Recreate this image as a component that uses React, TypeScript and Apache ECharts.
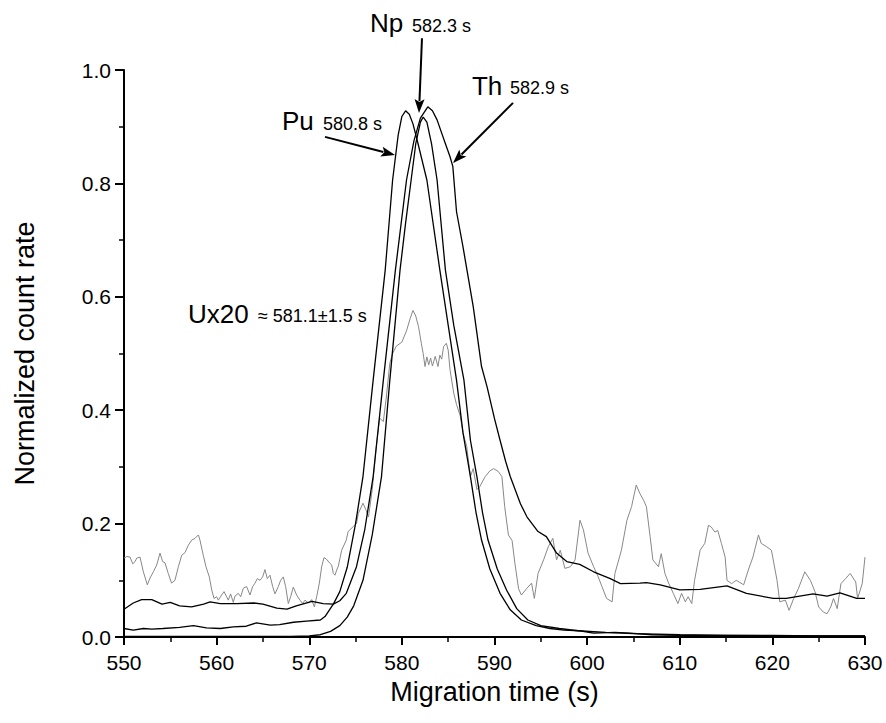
import React, { useEffect, useRef } from "react";
import * as echarts from "echarts";

// ---- axes ----
const X_MIN = 550;
const X_MAX = 630;
const X_INTERVAL = 10;
const Y_MIN = 0;
const Y_MAX = 1;
const Y_INTERVAL = 0.2;
const X_TITLE = "Migration time (s)";
const Y_TITLE = "Normalized count rate";

// ---- series: [migration time (s), normalized count rate] ----
const puData: [number, number][] = [
  [550, 0.015], [551, 0.012], [552.1, 0.015], [553, 0.014], [554.2, 0.015], [556, 0.017], [557.5, 0.02],
  [558.9, 0.016], [560.4, 0.015], [561.8, 0.018], [563.2, 0.019], [564.3, 0.025], [565.8, 0.021],
  [566.8, 0.022], [568.3, 0.026], [569.7, 0.028], [571.2, 0.03], [571.7, 0.036], [572.6, 0.058],
  [573.3, 0.08], [574.1, 0.123], [575.0, 0.2], [575.8, 0.283], [576.9, 0.453], [578.2, 0.647],
  [579.0, 0.806], [579.6, 0.885], [580.0, 0.918], [580.4, 0.928], [580.8, 0.922], [581.2, 0.905],
  [581.7, 0.873], [582.7, 0.806], [584.1, 0.647], [585.0, 0.55], [585.9, 0.453], [586.6, 0.36],
  [587.4, 0.283], [588.0, 0.22], [588.6, 0.171], [589.5, 0.12], [590.6, 0.077], [591.7, 0.048],
  [592.9, 0.03], [594.5, 0.02], [596, 0.015], [597.5, 0.012], [599.2, 0.011], [600.7, 0.007],
  [603, 0.008], [604.6, 0.007], [607, 0.004], [610, 0.003], [615, 0.003], [620, 0.002], [625, 0.002],
  [630, 0.002],
];

const npData: [number, number][] = [
  [550, 0.001], [560, 0.001], [568, 0.001], [570, 0.002], [571.2, 0.004], [572.3, 0.01], [573.3, 0.02],
  [574.1, 0.035], [574.8, 0.055], [575.8, 0.1], [576.8, 0.18], [577.8, 0.283], [578.7, 0.453],
  [579.8, 0.647], [580.4, 0.73], [581.0, 0.806], [581.5, 0.87], [582.0, 0.908], [582.3, 0.917],
  [582.7, 0.908], [583.2, 0.87], [583.8, 0.806], [584.7, 0.647], [585.6, 0.55], [586.7, 0.453],
  [587.4, 0.347], [588.1, 0.283], [588.7, 0.22], [589.3, 0.171], [590.3, 0.12], [591.3, 0.083],
  [592.4, 0.05], [593.6, 0.03], [595, 0.02], [597, 0.015], [599, 0.011], [602, 0.008], [605, 0.006],
  [610, 0.004], [615, 0.003], [620, 0.003], [625, 0.002], [630, 0.002],
];

const thData: [number, number][] = [
  [550, 0.049], [551, 0.06], [551.9, 0.066], [553, 0.066], [554.1, 0.058], [555, 0.061], [556, 0.055],
  [557.3, 0.053], [558.6, 0.058], [559.3, 0.062], [560.4, 0.059], [562.2, 0.059], [564, 0.06],
  [565, 0.058], [566.5, 0.051], [567.6, 0.049], [568.6, 0.055], [570.3, 0.063], [571.5, 0.059],
  [572.6, 0.058], [573.3, 0.064], [574, 0.077], [575.1, 0.124], [576, 0.19], [576.9, 0.283],
  [578.0, 0.453], [579.3, 0.647], [580.5, 0.806], [581.3, 0.875], [582.0, 0.915], [582.8, 0.935],
  [583.3, 0.928], [583.8, 0.912], [584.7, 0.87], [585.2, 0.847], [585.5, 0.83], [585.9, 0.75],
  [586.6, 0.688], [587.7, 0.583], [588.6, 0.477], [589.2, 0.441], [590.0, 0.385], [590.6, 0.347],
  [591.2, 0.31], [591.7, 0.283], [592.8, 0.235], [593.5, 0.212], [594.7, 0.186], [595.6, 0.177],
  [596.7, 0.148], [597.8, 0.133], [599.2, 0.128], [600.7, 0.115], [602.5, 0.103], [603.6, 0.094],
  [605.7, 0.095], [606.4, 0.096], [607.9, 0.092], [610, 0.083], [612.2, 0.084], [615.1, 0.09],
  [617.2, 0.077], [620.1, 0.068], [621.5, 0.068], [624.4, 0.076], [625.9, 0.072], [627.3, 0.078],
  [629.1, 0.068], [630, 0.068],
];

const uData: [number, number][] = [
  [550.0, 0.139], [550.3, 0.142], [550.65, 0.141], [550.94, 0.129], [551.19, 0.133], [551.37, 0.139],
  [551.73, 0.141], [552.09, 0.115], [552.52, 0.092], [552.81, 0.104], [553.17, 0.115], [553.53, 0.127],
  [553.89, 0.148], [554.17, 0.133], [554.42, 0.131], [554.78, 0.112], [555.14, 0.095], [555.5, 0.1],
  [555.87, 0.124], [556.23, 0.144], [556.59, 0.149], [556.95, 0.162], [557.31, 0.171], [557.67, 0.174],
  [558.03, 0.18], [558.2, 0.171], [558.56, 0.144], [558.85, 0.124], [559.21, 0.106], [559.47, 0.083],
  [559.72, 0.068], [560.0, 0.071], [560.18, 0.065], [560.54, 0.074], [560.8, 0.08], [561.08, 0.071],
  [561.26, 0.065], [561.51, 0.076], [561.8, 0.061], [561.98, 0.072], [562.34, 0.077], [562.6, 0.071],
  [562.88, 0.086], [563.24, 0.089], [563.6, 0.074], [563.89, 0.089], [564.14, 0.095], [564.4, 0.103],
  [564.68, 0.1], [564.97, 0.106], [565.22, 0.119], [565.47, 0.103], [565.76, 0.109], [566.05, 0.089],
  [566.3, 0.076], [566.66, 0.089], [566.91, 0.1], [567.2, 0.106], [567.45, 0.089], [567.74, 0.059],
  [567.99, 0.071], [568.28, 0.088], [568.64, 0.074], [569.0, 0.065], [569.29, 0.059], [569.54, 0.065],
  [569.9, 0.06], [570.26, 0.066], [570.55, 0.053], [570.8, 0.071], [571.09, 0.095], [571.34, 0.124],
  [571.59, 0.14], [571.88, 0.137], [572.17, 0.131], [572.42, 0.127], [572.6, 0.112], [572.78, 0.109],
  [572.96, 0.118], [573.14, 0.125], [573.32, 0.139], [573.5, 0.153], [574.0, 0.171], [574.2, 0.186],
  [574.76, 0.195], [575.1, 0.2], [575.3, 0.218], [575.8, 0.236], [576.1, 0.225], [576.4, 0.212],
  [576.8, 0.26], [577.2, 0.33], [577.6, 0.386], [578.0, 0.38], [578.3, 0.42], [578.7, 0.483],
  [579.0, 0.5], [579.4, 0.513], [580.0, 0.52], [580.5, 0.54], [580.9, 0.562], [581.2, 0.576],
  [581.5, 0.566], [581.8, 0.547], [582.1, 0.518], [582.3, 0.5], [582.5, 0.477], [582.7, 0.494],
  [582.9, 0.48], [583.1, 0.492], [583.3, 0.478], [583.6, 0.495], [583.9, 0.477], [584.1, 0.497],
  [584.3, 0.49], [584.5, 0.512], [584.8, 0.518], [585.0, 0.506], [585.2, 0.471], [585.6, 0.43],
  [585.9, 0.41], [586.3, 0.39], [586.6, 0.36], [587.0, 0.336], [587.4, 0.283], [587.7, 0.297],
  [588.1, 0.26], [588.4, 0.265], [589.0, 0.283], [589.5, 0.293], [589.9, 0.297], [590.4, 0.292],
  [590.8, 0.283], [591.1, 0.23], [591.5, 0.18], [591.9, 0.17], [592.2, 0.13], [592.6, 0.085],
  [592.9, 0.074], [593.5, 0.086], [594.0, 0.095], [594.3, 0.068], [594.7, 0.112], [595.3, 0.136],
  [595.8, 0.159], [596.3, 0.174], [596.7, 0.136], [597.1, 0.153], [597.6, 0.121], [598.2, 0.124],
  [598.7, 0.136], [599.23, 0.206], [599.6, 0.189], [600.1, 0.148], [600.7, 0.124], [601.2, 0.106],
  [601.6, 0.089], [602.1, 0.068], [602.7, 0.062], [603.0, 0.112], [603.7, 0.153], [604.3, 0.206],
  [604.8, 0.23], [605.3, 0.268], [605.7, 0.253], [606.1, 0.241], [606.4, 0.23], [606.8, 0.177],
  [607.1, 0.136], [607.7, 0.124], [608.0, 0.147], [608.4, 0.112], [608.8, 0.095], [609.3, 0.077],
  [609.8, 0.059], [610.2, 0.077], [610.6, 0.062], [610.9, 0.071], [611.3, 0.059], [611.6, 0.1],
  [612.2, 0.153], [612.7, 0.165], [613.1, 0.197], [613.4, 0.194], [613.8, 0.185], [614.1, 0.188],
  [614.5, 0.165], [614.9, 0.141], [615.1, 0.1], [615.6, 0.094], [616.1, 0.1], [616.9, 0.092],
  [617.4, 0.118], [617.9, 0.141], [618.5, 0.18], [618.8, 0.165], [619.4, 0.159], [619.9, 0.153],
  [620.5, 0.1], [620.8, 0.062], [621.4, 0.065], [621.8, 0.047], [622.3, 0.068], [622.8, 0.085],
  [623.5, 0.115], [624.1, 0.1], [624.6, 0.08], [625.0, 0.053], [625.5, 0.044], [625.9, 0.041],
  [626.3, 0.053], [626.6, 0.068], [627.0, 0.05], [627.4, 0.094], [627.9, 0.103], [628.4, 0.112],
  [629.0, 0.097], [629.2, 0.068], [629.7, 0.094], [630.0, 0.141],
];

// ---- annotations (data coordinates: text left edge / baseline) ----
const labelTexts = ["Np", "582.3 s", "Th", "582.9 s", "Pu", "580.8 s", "Ux20", "\u2248 581.1\u00b11.5 s"];
const labelSizes = [26, 18, 26, 18, 26, 18, 26, 18];
const labelAnchors: [number, number][] = [
  [576.56, 1.067], [581.09, 1.067],
  [587.57, 0.956], [591.67, 0.956],
  [567.06, 0.894], [571.48, 0.894],
  [556.91, 0.554], [564.46, 0.554],
];
const arrowTails: [number, number][] = [[582.17, 1.056], [592.0, 0.942], [571.7, 0.882]];
const arrowHeads: [number, number][] = [[581.85, 0.924], [585.52, 0.836], [579.26, 0.85]];

const FONT = "'Liberation Sans', Arial, Helvetica, sans-serif";

export default function App() {
  const ref = useRef<HTMLDivElement>(null);
  useEffect(() => {
    if (!ref.current) return;
    const chart = echarts.init(ref.current, undefined, { renderer: "svg" });
    const lineSeries = (name: string, data: [number, number][], color: string, width: number, z: number) => ({
      name,
      type: "line",
      data,
      showSymbol: false,
      symbol: "none",
      smooth: false,
      z,
      lineStyle: { color, width },
      emphasis: { disabled: true },
    });
    chart.setOption({
      animation: false,
      textStyle: { fontFamily: FONT },
      grid: { left: 124, right: 21, top: 70, bottom: 86, outerBoundsMode: "none" },
      xAxis: {
        type: "value",
        min: X_MIN,
        max: X_MAX,
        interval: X_INTERVAL,
        name: X_TITLE,
        nameLocation: "middle",
        nameGap: 41,
        nameTextStyle: { fontSize: 27, color: "#000", fontFamily: FONT },
        axisLine: { show: true, onZero: false, lineStyle: { color: "#000", width: 2 } },
        axisTick: { show: true, inside: false, length: 8, lineStyle: { color: "#000", width: 2 } },
        minorTick: { show: true, splitNumber: 2, length: 5, lineStyle: { color: "#000", width: 1.5 } },
        axisLabel: { fontSize: 21, color: "#000", margin: 15, fontFamily: FONT },
        splitLine: { show: false },
      },
      yAxis: {
        type: "value",
        min: Y_MIN,
        max: Y_MAX,
        interval: Y_INTERVAL,
        name: Y_TITLE,
        nameLocation: "middle",
        nameGap: 86,
        nameTextStyle: { fontSize: 27, color: "#000", fontFamily: FONT },
        axisLine: { show: true, onZero: false, lineStyle: { color: "#000", width: 2 } },
        axisTick: { show: true, inside: false, length: 9, lineStyle: { color: "#000", width: 2 } },
        minorTick: { show: true, splitNumber: 2, length: 5, lineStyle: { color: "#000", width: 1.5 } },
        axisLabel: {
          fontSize: 21,
          color: "#000",
          margin: 13,
          fontFamily: FONT,
          formatter: (v: number) => v.toFixed(1),
        },
        splitLine: { show: false },
      },
      series: [
        lineSeries("U x20", uData, "#888888", 1, 1),
        lineSeries("Th", thData, "#000", 1.3, 2),
        lineSeries("Pu", puData, "#000", 1.3, 2),
        lineSeries("Np", npData, "#000", 1.3, 2),
      ],
    });

    const px = (p: [number, number]) => chart.convertToPixel({ gridIndex: 0 }, p) as number[];
    const graphics: any[] = [];
    labelTexts.forEach((t, i) => {
      const [x, y] = px(labelAnchors[i]);
      const fs = labelSizes[i];
      graphics.push({
        type: "text",
        x,
        y: y + 0.14 * fs,
        z: 10,
        style: {
          text: t,
          fontSize: fs,
          fontFamily: FONT,
          fill: "#000",
          align: "left",
          verticalAlign: "bottom",
        },
      });
    });
    arrowTails.forEach((tail, i) => {
      const [tx, ty] = px(tail);
      const [hx, hy] = px(arrowHeads[i]);
      const dx = hx - tx;
      const dy = hy - ty;
      const len = Math.sqrt(dx * dx + dy * dy);
      const ux = dx / len;
      const uy = dy / len;
      const L = 14;
      const W = 10;
      const bx = hx - ux * L;
      const by = hy - uy * L;
      const nx = -uy;
      const ny = ux;
      graphics.push({
        type: "line",
        z: 10,
        shape: { x1: tx, y1: ty, x2: bx + ux * 2, y2: by + uy * 2 },
        style: { stroke: "#000", lineWidth: 2 },
      });
      graphics.push({
        type: "polygon",
        z: 10,
        shape: {
          points: [
            [hx, hy],
            [bx + (nx * W) / 2, by + (ny * W) / 2],
            [bx + ux * 3, by + uy * 3],
            [bx - (nx * W) / 2, by - (ny * W) / 2],
          ],
        },
        style: { fill: "#000", stroke: "none" },
      });
    });
    chart.setOption({ graphic: graphics });

    return () => chart.dispose();
  }, []);
  return (
    <div
      ref={ref}
      style={{ position: "absolute", left: 0, top: 0, width: 886, height: 723, background: "#fff" }}
    />
  );
}
